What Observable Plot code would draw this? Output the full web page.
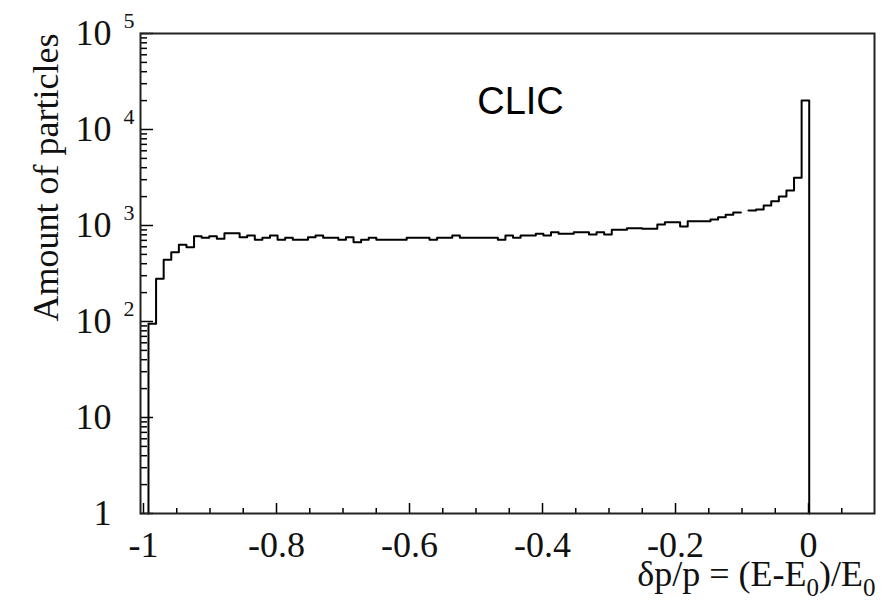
<!DOCTYPE html>
<html><head><meta charset="utf-8">
<script src="https://cdn.jsdelivr.net/npm/d3@7"></script>
<script src="https://cdn.jsdelivr.net/npm/@observablehq/plot@0.6"></script>
<style>body{margin:0;background:#fff}</style>
</head><body><div id="chart"></div>
<script>
// Histogram definition (bin edges) and counts
const binStart = -0.9925;
const binWidth = 0.01142;
const counts = [
  95, 279, 439, 527, 629, 594, 774, 745, 774, 728,
  831, 831, 756, 787, 710, 745, 787, 710, 745, 710,
  710, 756, 787, 745, 745, 710, 756, 670, 710, 745,
  710, 710, 710, 710, 745, 745, 745, 710, 745, 745,
  787, 745, 745, 745, 745, 745, 710, 787, 745, 787,
  787, 820, 787, 851, 820, 820, 851, 851, 805, 851,
  805, 902, 902, 937, 937, 925, 925, 1024, 1082, 1082,
  977, 1109, 1109, 1109, 1155, 1219, 1292, 1365, null, 1432,
  1468, 1616, 1791, 2004, 2316, 3142, 20050
];
const xTickValues = [-1, -0.8, -0.6, -0.4, -0.2, 0];
const xTickLabels = ["-1", "-0.8", "-0.6", "-0.4", "-0.2", "0"];
const xMinorTicks = [-0.95, -0.9, -0.85, -0.75, -0.7, -0.65, -0.55, -0.5, -0.45, -0.35, -0.3, -0.25, -0.15, -0.1, -0.05, 0.05];
const yTickValues = [1, 10, 100, 1000, 10000, 100000];
const yTickBase = ["1", "10", "10", "10", "10", "10"];
const yTickExp = ["", "", "2", "3", "4", "5"];
const yMinorTicks = [
  2, 3, 4, 5, 6, 7, 8, 9,
  20, 30, 40, 50, 60, 70, 80, 90,
  200, 300, 400, 500, 600, 700, 800, 900,
  2000, 3000, 4000, 5000, 6000, 7000, 8000, 9000,
  20000, 30000, 40000, 50000, 60000, 70000, 80000, 90000
];
const yTitle = "Amount of particles";
const xTitleParts = [["δp/p = (E-E", false], ["0", true], [")/E", false], ["0", true]];
const xTitle = xTitleParts.map(p => p[0]).join("");
const annotation = "CLIC";

// step-line vertices of the histogram outline; a missing bin starts a new segment
const pts = [];
let seg = 0;
pts.push({x: binStart, y: 1, seg});
counts.forEach((c, i) => {
  const x0 = binStart + i * binWidth, x1 = x0 + binWidth;
  if (c == null) { seg++; return; }
  pts.push({x: x0, y: c, seg}, {x: x1, y: c, seg});
});
pts.push({x: binStart + counts.length * binWidth, y: 1, seg});

const serif = "'Liberation Serif', 'Times New Roman', serif";
const chart = Plot.plot({
  width: 882, height: 610,
  marginLeft: 140, marginRight: 8, marginTop: 33, marginBottom: 97,
  style: {fontFamily: serif, background: "white", color: "black"},
  x: {domain: [-1.0045, 0.0992]},
  y: {type: "log", domain: [1, 1e5]},
  marks: [
    Plot.axisY({anchor: "left", ticks: yMinorTicks, tickSize: 7, dx: 7, tickFormat: () => "", label: null, strokeWidth: 1.5}),
    Plot.axisY({anchor: "left", ticks: yTickValues, tickSize: 13, dx: 13, tickFormat: () => "", label: null, strokeWidth: 1.5}),
    Plot.axisX({anchor: "bottom", ticks: xMinorTicks, tickSize: 5, dy: -5, tickFormat: () => "", label: null, strokeWidth: 1.5}),
    Plot.axisX({anchor: "bottom", ticks: xTickValues, tickSize: 10, dy: -10, tickFormat: () => "", label: null, strokeWidth: 1.5}),
    Plot.line(pts, {x: "x", y: "y", z: "seg", stroke: "#000", strokeWidth: 2}),
    Plot.frame({stroke: "#222", strokeWidth: 2}),
    Plot.text(xTickValues, {x: d => d, text: (d, i) => xTickLabels[i], frameAnchor: "bottom", dy: 31.5, fontSize: 36, lineAnchor: "middle", fill: "#111"}),
    Plot.text(yTickValues, {y: d => d, text: (d, i) => yTickBase[i], frameAnchor: "left", dx: -29, textAnchor: "end", fontSize: 36, fill: "#111"}),
    Plot.text(yTickValues, {y: d => d, text: (d, i) => yTickExp[i], frameAnchor: "left", dx: -17, dy: -12.5, textAnchor: "start", fontSize: 22, fill: "#111"}),
    Plot.text([yTitle], {text: d => d, frameAnchor: "top-left", rotate: -90, textAnchor: "end", dx: -108, fontSize: 36, fill: "#111"}),
    Plot.text([xTitle], {text: d => d, frameAnchor: "bottom-right", textAnchor: "end", dx: 1, dy: 72.5, fontSize: 36, fill: "#111"}),
    Plot.text([annotation], {text: d => d, frameAnchor: "top", dx: 13, dy: 54, fontSize: 38, fontFamily: "'Liberation Sans', Arial, sans-serif", fill: "#000"})
  ]
});

// subscripts in the x-axis title
for (const t of chart.querySelectorAll("text")) {
  if (t.textContent === xTitle) {
    t.textContent = "";
    const ns = "http://www.w3.org/2000/svg";
    let shifted = false;
    for (const [s, sub] of xTitleParts) {
      const ts = document.createElementNS(ns, "tspan");
      ts.textContent = s;
      if (sub && !shifted) { ts.setAttribute("dy", "10"); ts.setAttribute("font-size", "25"); shifted = true; }
      else if (!sub && shifted) { ts.setAttribute("dy", "-10"); shifted = false; }
      else if (sub) ts.setAttribute("font-size", "25");
      t.appendChild(ts);
    }
  }
}
document.getElementById("chart").appendChild(chart);
</script>
</body></html>
